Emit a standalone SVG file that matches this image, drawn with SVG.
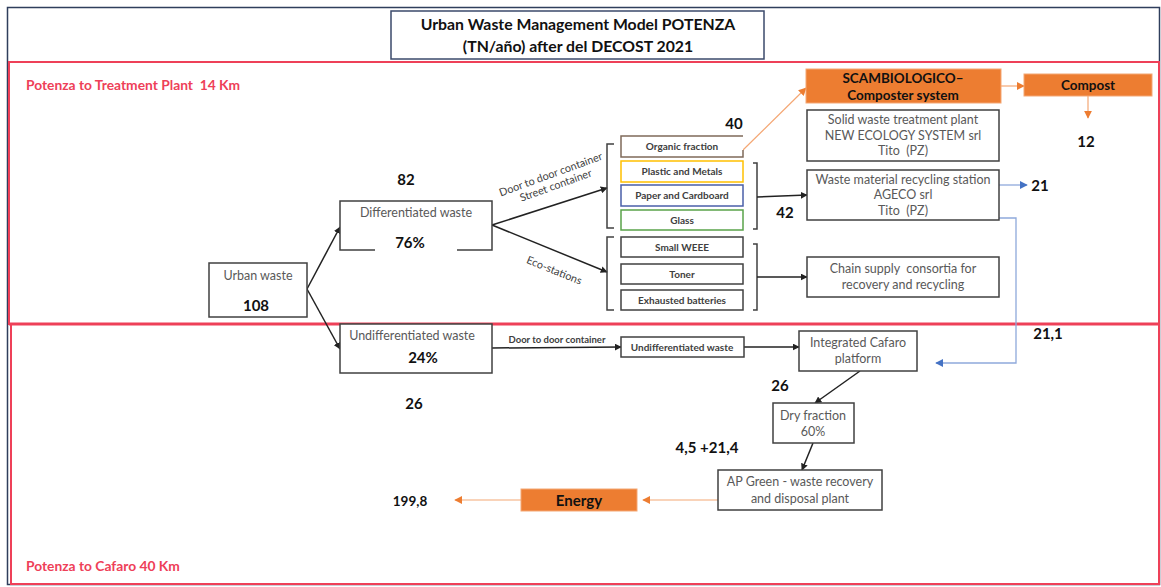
<svg xmlns="http://www.w3.org/2000/svg" width="1161" height="587" viewBox="0 0 1161 587">
<defs>
<style>
.t{font-family:Lato,"Liberation Sans",sans-serif;fill:#595959;font-size:12.5px;text-anchor:middle}
.s{font-family:Lato,"Liberation Sans",sans-serif;fill:#404040;font-size:10px;font-weight:bold;text-anchor:middle}
.n{font-family:Lato,"Liberation Sans",sans-serif;fill:#111;font-size:15px;font-weight:bold;text-anchor:middle}
.o{font-family:Lato,"Liberation Sans",sans-serif;fill:#111;font-size:13.5px;font-weight:bold;text-anchor:middle}
.r{font-family:Lato,"Liberation Sans",sans-serif;fill:#EE4058;font-size:13.8px;font-weight:bold}
.box{fill:#fff;stroke:#404040;stroke-width:1.5}
.ob{fill:#ED7D31;stroke:#F4A774;stroke-width:1}
.k{fill:none;stroke:#222;stroke-width:1.5}
.br{fill:none;stroke:#404040;stroke-width:1.5}
.ol{fill:none;stroke:#F4A774;stroke-width:1.2}
.bl{fill:none;stroke:#8EA9DB;stroke-width:1.3}
</style>
<marker id="ak" viewBox="0 0 10 10" refX="9" refY="5" markerWidth="7" markerHeight="7" markerUnits="userSpaceOnUse" orient="auto"><path d="M0,0L10,5L0,10z" fill="#222"/></marker>
<marker id="ao" viewBox="0 0 10 10" refX="9" refY="5" markerWidth="8" markerHeight="8" markerUnits="userSpaceOnUse" orient="auto"><path d="M0,0L10,5L0,10z" fill="#ED7D31"/></marker>
<marker id="ab" viewBox="0 0 10 10" refX="9" refY="5" markerWidth="8" markerHeight="8" markerUnits="userSpaceOnUse" orient="auto"><path d="M0,0L10,5L0,10z" fill="#4472C4"/></marker>
</defs>
<rect width="1161" height="587" fill="#fff"/>
<rect x="7.5" y="7.5" width="1152" height="577" fill="none" stroke="#2F3E5C" stroke-width="1.5"/>
<g id="zone-upper">
<rect x="9" y="62" width="1150" height="262" fill="none" stroke="#EE4058" stroke-width="2"/>
<text class="r" x="26" y="90">Potenza to Treatment Plant&#160; 14 Km</text>
</g>
<g id="zone-lower">
<rect x="11" y="324" width="1148" height="260" fill="none" stroke="#EE4058" stroke-width="2"/>
<line x1="9" y1="324" x2="1160" y2="324" stroke="#EE4058" stroke-width="3"/>
<text class="r" x="26" y="571">Potenza to Cafaro 40 Km</text>
</g>
<g id="title">
<rect x="391" y="11" width="373" height="48" fill="#fff" stroke="#3B4A6B" stroke-width="1.5"/>
<text class="o" x="578" y="30" style="font-size:15.8px">Urban Waste Management Model POTENZA</text>
<text class="o" x="578" y="52" style="font-size:15.8px">(TN/año) after del DECOST 2021</text>
</g>
<g id="connectors">
<line class="k" x1="307" y1="289" x2="340" y2="227" marker-end="url(#ak)"/>
<line class="k" x1="307" y1="289" x2="340" y2="349" marker-end="url(#ak)"/>
<line class="k" x1="492" y1="225" x2="607" y2="188" marker-end="url(#ak)"/>
<line class="k" x1="492" y1="225" x2="607" y2="272" marker-end="url(#ak)"/>
<path class="br" d="M614,144H607V228H614"/>
<path class="br" d="M614,237H607V310H614"/>
<path class="br" d="M753,163H757V229H753"/>
<path class="br" d="M753,244H757V310H753"/>
<line class="k" x1="757" y1="197" x2="807" y2="195" marker-end="url(#ak)"/>
<line class="k" x1="757" y1="277" x2="807" y2="277" marker-end="url(#ak)"/>
<line class="ol" x1="743" y1="150" x2="806" y2="88" marker-end="url(#ao)"/>
<line class="ol" x1="1001" y1="86" x2="1024" y2="86" marker-end="url(#ao)"/>
<line class="ol" x1="1088" y1="96" x2="1088" y2="118" marker-end="url(#ao)"/>
<line class="bl" x1="999" y1="185" x2="1027" y2="185" marker-end="url(#ab)"/>
<path class="bl" d="M998,218H1016V363H936" marker-end="url(#ab)"/>
<line class="k" x1="492" y1="348" x2="621" y2="347" marker-end="url(#ak)"/>
<line class="k" x1="744" y1="347" x2="799" y2="347" marker-end="url(#ak)"/>
<line class="k" x1="860" y1="371" x2="815" y2="403" marker-end="url(#ak)"/>
<line class="k" x1="813" y1="443" x2="802" y2="470" marker-end="url(#ak)"/>
<line class="ol" x1="718" y1="500" x2="643" y2="500" marker-end="url(#ao)"/>
<line class="ol" x1="521" y1="500" x2="455" y2="500" marker-end="url(#ao)"/>
<text class="s" x="551" y="178" style="font-weight:normal;font-size:10.8px" transform="rotate(-20 551 175)">Door to door container</text>
<text class="s" x="556" y="189" style="font-weight:normal;font-size:10.8px" transform="rotate(-20 556 186)">Street container</text>
<text class="s" x="554" y="274" style="font-weight:normal;font-size:10.8px" transform="rotate(22 554 271)">Eco-stations</text>
<text class="s" x="557" y="343" style="font-size:9.5px">Door to door container</text>
</g>
<g id="urban-waste">
<rect class="box" x="209" y="263" width="98" height="54"/>
<text class="t" x="258" y="280">Urban waste</text>
<text class="n" x="256" y="311">108</text>
</g>
<g id="differentiated">
<path class="box" d="M375,250H340V201H492V250H457"/>
<text class="t" x="416" y="217">Differentiated waste</text>
<text class="n" x="410" y="248">76%</text>
<text class="n" x="406" y="185">82</text>
</g>
<g id="undifferentiated">
<rect class="box" x="340" y="324" width="152" height="49"/>
<text class="t" x="412" y="340">Undifferentiated waste</text>
<text class="n" x="423" y="363">24%</text>
<text class="n" x="414" y="409">26</text>
</g>
<g id="organic"><path d="M743,150V157H621V136H743" fill="#fff" stroke="#7F6A5A" stroke-width="1.5"/><text class="s" x="682" y="150">Organic fraction</text><text class="n" x="734" y="129">40</text></g>
<g id="plastic"><rect x="621" y="161" width="122" height="21" fill="#fff" stroke="#FFC000" stroke-width="1.5"/><text class="s" x="682" y="175">Plastic and Metals</text></g>
<g id="paper"><rect x="621" y="185" width="122" height="21" fill="#fff" stroke="#4A5FA8" stroke-width="1.5"/><text class="s" x="682" y="199">Paper and Cardboard</text></g>
<g id="glass"><rect x="621" y="210" width="122" height="20" fill="#fff" stroke="#59A34A" stroke-width="1.5"/><text class="s" x="682" y="224">Glass</text></g>
<g id="weee"><rect class="box" x="621" y="237" width="122" height="20"/><text class="s" x="682" y="251">Small WEEE</text></g>
<g id="toner"><rect class="box" x="621" y="264" width="122" height="20"/><text class="s" x="682" y="278">Toner</text></g>
<g id="batteries"><rect class="box" x="621" y="290" width="122" height="20"/><text class="s" x="682" y="304">Exhausted batteries</text></g>
<g id="scambiologico"><rect class="ob" x="806" y="69" width="195" height="34"/><text class="o" x="903" y="83">SCAMBIOLOGICO–</text><text class="o" x="903" y="100">Composter system</text></g>
<g id="compost"><rect class="ob" x="1024" y="74" width="128" height="22"/><text class="o" x="1088" y="90">Compost</text><text class="n" x="1086" y="147">12</text></g>
<g id="solid-waste-plant"><rect class="box" x="807" y="110" width="192" height="51"/><text class="t" x="903" y="124">Solid waste treatment plant</text><text class="t" x="903" y="140">NEW ECOLOGY SYSTEM srl</text><text class="t" x="903" y="155">Tito&#160; (PZ)</text></g>
<g id="ageco"><rect class="box" x="807" y="170" width="192" height="50"/><text class="t" x="903" y="184">Waste material recycling station</text><text class="t" x="903" y="199">AGECO srl</text><text class="t" x="903" y="215">Tito&#160; (PZ)</text><text class="n" x="1040" y="191">21</text><text class="n" x="785" y="218">42</text></g>
<g id="chain-supply"><rect class="box" x="807" y="257" width="192" height="40"/><text class="t" x="903" y="273">Chain supply&#160; consortia for</text><text class="t" x="903" y="289">recovery and recycling</text><text class="n" x="1048" y="339">21,1</text></g>
<g id="undiff-small"><rect class="box" x="621" y="337" width="123" height="20"/><text class="s" x="682" y="351">Undifferentiated waste</text></g>
<g id="cafaro"><rect class="box" x="799" y="331" width="118" height="40"/><text class="t" x="858" y="347">Integrated Cafaro</text><text class="t" x="858" y="363">platform</text><text class="n" x="780" y="391">26</text></g>
<g id="dry-fraction"><rect class="box" x="773" y="403" width="81" height="40"/><text class="t" x="813" y="420">Dry fraction</text><text class="t" x="813" y="436">60%</text><text class="n" x="707" y="453">4,5 +21,4</text></g>
<g id="ap-green"><rect class="box" x="718" y="470" width="164" height="40"/><text class="t" x="800" y="486">AP Green - waste recovery</text><text class="t" x="800" y="503">and disposal plant</text></g>
<g id="energy"><rect class="ob" x="521" y="489" width="116" height="22"/><text class="o" x="579" y="506" style="font-size:15px">Energy</text><text class="o" x="410" y="506">199,8</text></g>
</svg>
